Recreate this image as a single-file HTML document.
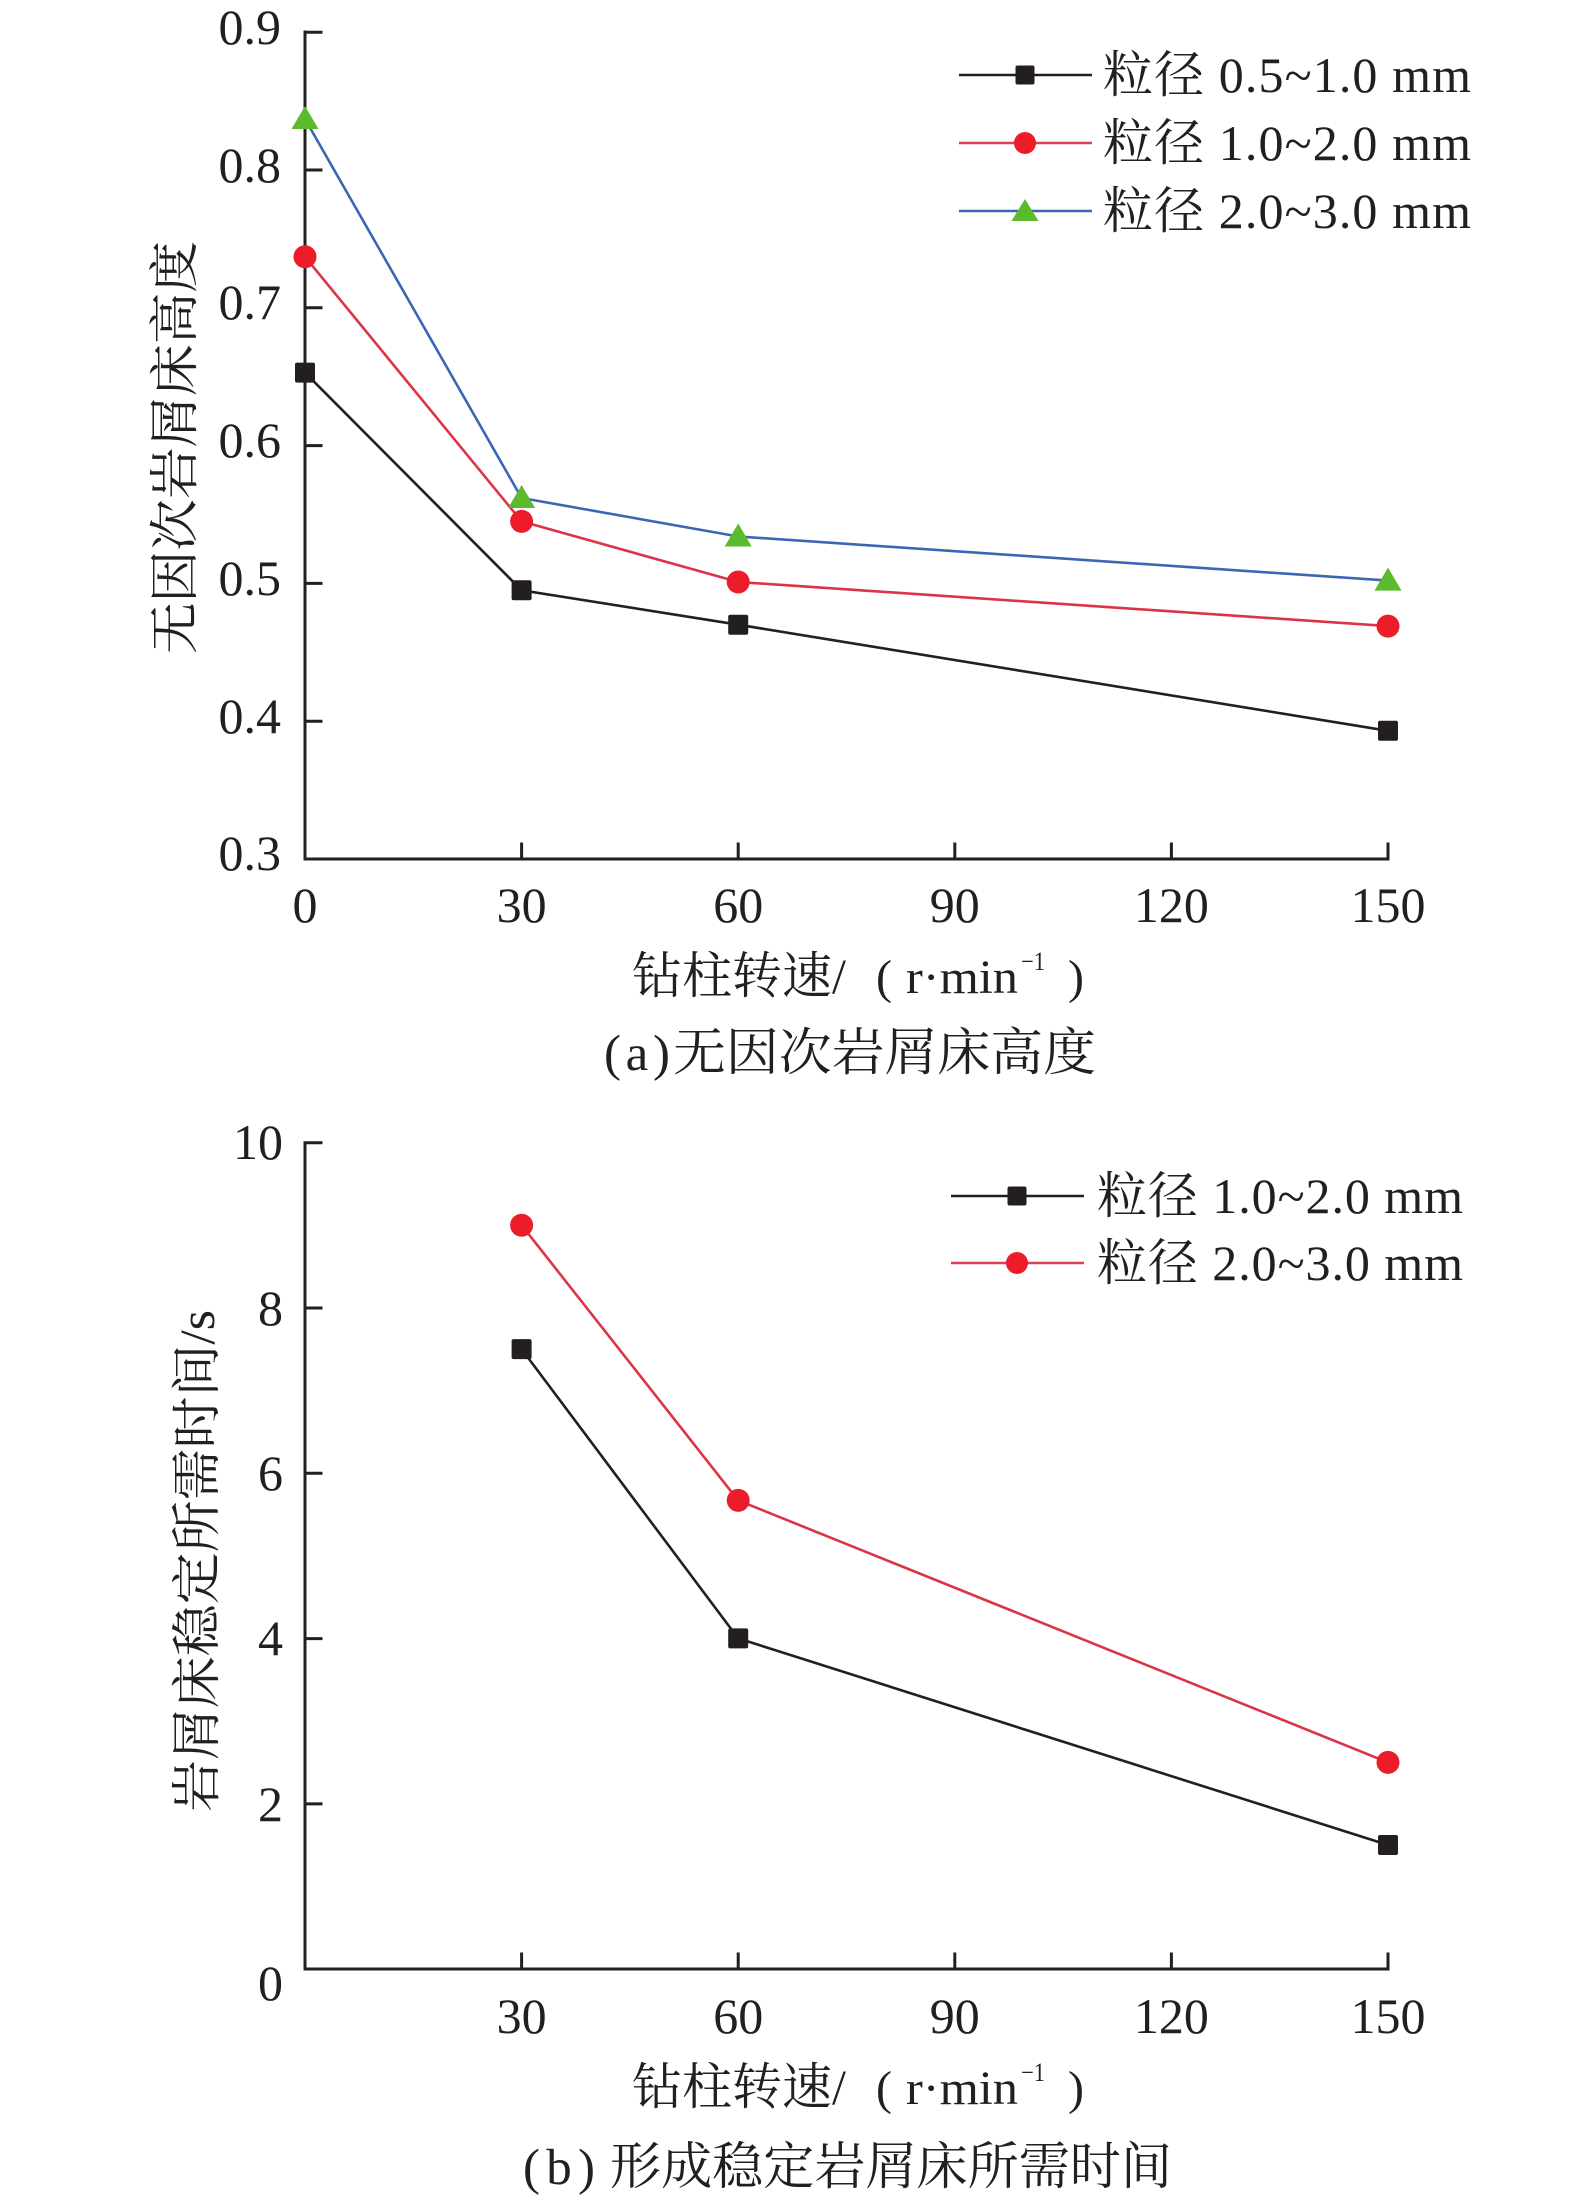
<!DOCTYPE html>
<html>
<head>
<meta charset="utf-8">
<style>
html,body{margin:0;padding:0;background:#fff;}
svg{display:block;}
.lat{font-family:"Liberation Serif","Noto Serif CJK SC",serif;fill:#231f20;}
.cjk{font-family:"Liberation Serif","Noto Serif CJK SC",serif;fill:#231f20;}
</style>
</head>
<body>
<svg width="1575" height="2203" viewBox="0 0 1575 2203" xmlns="http://www.w3.org/2000/svg">
<rect x="0" y="0" width="1575" height="2203" fill="#fff"/>

<!-- ================= Chart (a) ================= -->
<g stroke="#231f20" stroke-width="3" fill="none" stroke-linecap="square">
  <line x1="305" y1="32" x2="305" y2="859"/>
  <line x1="305" y1="859" x2="1388" y2="859"/>
  <line x1="305" y1="32.2" x2="321" y2="32.2"/>
  <line x1="305" y1="170" x2="321" y2="170"/>
  <line x1="305" y1="307.8" x2="321" y2="307.8"/>
  <line x1="305" y1="445.6" x2="321" y2="445.6"/>
  <line x1="305" y1="583.4" x2="321" y2="583.4"/>
  <line x1="305" y1="721.2" x2="321" y2="721.2"/>
  <line x1="521.6" y1="859" x2="521.6" y2="844"/>
  <line x1="738.2" y1="859" x2="738.2" y2="844"/>
  <line x1="954.8" y1="859" x2="954.8" y2="844"/>
  <line x1="1171.4" y1="859" x2="1171.4" y2="844"/>
  <line x1="1388" y1="859" x2="1388" y2="844"/>
</g>
<g class="lat" font-size="50" text-anchor="end">
  <text x="281" y="44">0.9</text>
  <text x="281" y="182">0.8</text>
  <text x="281" y="319">0.7</text>
  <text x="281" y="457">0.6</text>
  <text x="281" y="595">0.5</text>
  <text x="281" y="733">0.4</text>
  <text x="281" y="870">0.3</text>
</g>
<g class="lat" font-size="50" text-anchor="middle">
  <text x="305" y="922">0</text>
  <text x="521.6" y="922">30</text>
  <text x="738.2" y="922">60</text>
  <text x="954.8" y="922">90</text>
  <text x="1171.4" y="922">120</text>
  <text x="1388" y="922">150</text>
</g>
<polyline points="305,119 521.6,498 738.2,536.5 1388,580.6" fill="none" stroke="#3b66b3" stroke-width="2.6"/>
<polyline points="305,256.8 521.6,521.4 738.2,582 1388,626.1" fill="none" stroke="#dc3447" stroke-width="2.6"/>
<polyline points="305,372.6 521.6,590.3 738.2,624.7 1388,730.8" fill="none" stroke="#231f20" stroke-width="2.6"/>
<g fill="#231f20">
  <rect x="295" y="362.6" width="20" height="20" rx="2"/>
  <rect x="511.6" y="580.3" width="20" height="20" rx="2"/>
  <rect x="728.2" y="614.7" width="20" height="20" rx="2"/>
  <rect x="1378" y="720.8" width="20" height="20" rx="2"/>
</g>
<g fill="#ec1c2a">
  <circle cx="305" cy="256.8" r="11.5"/>
  <circle cx="521.6" cy="521.4" r="11.5"/>
  <circle cx="738.2" cy="582" r="11.5"/>
  <circle cx="1388" cy="626.1" r="11.5"/>
</g>
<g fill="#5abb2c">
  <polygon points="305,106 291.5,129 318.5,129"/>
  <polygon points="521.6,485 508.1,508 535.1,508"/>
  <polygon points="738.2,523.5 724.7,546.5 751.7,546.5"/>
  <polygon points="1388,567.6 1374.5,590.6 1401.5,590.6"/>
</g>
<line x1="959" y1="75" x2="1092" y2="75" stroke="#231f20" stroke-width="2.6"/>
<rect x="1015.5" y="65.5" width="19" height="19" rx="2" fill="#231f20"/>
<line x1="959" y1="143" x2="1092" y2="143" stroke="#d9404f" stroke-width="2.6"/>
<circle cx="1025" cy="143" r="11" fill="#ec1c2a"/>
<line x1="959" y1="211" x2="1092" y2="211" stroke="#3b66b3" stroke-width="2.6"/>
<polygon points="1025,199 1011.5,221 1038.5,221" fill="#5abb2c"/>
<g class="cjk" font-size="50">
  <text x="1103" y="92" textLength="368" lengthAdjust="spacing">粒径 0.5~1.0 mm</text>
  <text x="1103" y="160" textLength="368" lengthAdjust="spacing">粒径 1.0~2.0 mm</text>
  <text x="1103" y="228" textLength="368" lengthAdjust="spacing">粒径 2.0~3.0 mm</text>
</g>
<text class="cjk" font-size="50" text-anchor="middle" transform="translate(192,447.5) rotate(-90)" textLength="413" lengthAdjust="spacingAndGlyphs">无因次岩屑床高度</text>
<g class="cjk">
  <text x="632" y="993" font-size="50">钻柱转速/</text>
  <text x="876" y="993" font-size="48">(</text>
  <text x="906" y="993" font-size="48" textLength="112" lengthAdjust="spacingAndGlyphs">r·min</text>
  <text x="1021" y="970" font-size="26" textLength="24" lengthAdjust="spacingAndGlyphs">−1</text>
  <text x="1068" y="993" font-size="48">)</text>
</g>
<g class="cjk" font-size="51">
  <text x="604" y="1070" textLength="66" lengthAdjust="spacing">(a)</text>
  <text x="673" y="1070" textLength="423" lengthAdjust="spacingAndGlyphs">无因次岩屑床高度</text>
</g>

<!-- ================= Chart (b) ================= -->
<g stroke="#231f20" stroke-width="3" fill="none" stroke-linecap="square">
  <line x1="305" y1="1143" x2="305" y2="1969"/>
  <line x1="305" y1="1969" x2="1388" y2="1969"/>
  <line x1="305" y1="1142.7" x2="321" y2="1142.7"/>
  <line x1="305" y1="1308" x2="321" y2="1308"/>
  <line x1="305" y1="1473.3" x2="321" y2="1473.3"/>
  <line x1="305" y1="1638.6" x2="321" y2="1638.6"/>
  <line x1="305" y1="1803.9" x2="321" y2="1803.9"/>
  <line x1="521.6" y1="1969" x2="521.6" y2="1954"/>
  <line x1="738.2" y1="1969" x2="738.2" y2="1954"/>
  <line x1="954.8" y1="1969" x2="954.8" y2="1954"/>
  <line x1="1171.4" y1="1969" x2="1171.4" y2="1954"/>
  <line x1="1388" y1="1969" x2="1388" y2="1954"/>
</g>
<g class="lat" font-size="50" text-anchor="end">
  <text x="283" y="1159">10</text>
  <text x="283" y="1325">8</text>
  <text x="283" y="1490">6</text>
  <text x="283" y="1655">4</text>
  <text x="283" y="1821">2</text>
  <text x="283" y="2000">0</text>
</g>
<g class="lat" font-size="50" text-anchor="middle">
  <text x="521.6" y="2033">30</text>
  <text x="738.2" y="2033">60</text>
  <text x="954.8" y="2033">90</text>
  <text x="1171.4" y="2033">120</text>
  <text x="1388" y="2033">150</text>
</g>
<polyline points="521.6,1225.2 738.2,1500.4 1388,1762.4" fill="none" stroke="#dc3447" stroke-width="2.6"/>
<polyline points="521.6,1349.1 738.2,1638.4 1388,1845" fill="none" stroke="#231f20" stroke-width="2.6"/>
<g fill="#231f20">
  <rect x="511.6" y="1339.1" width="20" height="20" rx="2"/>
  <rect x="728.2" y="1628.4" width="20" height="20" rx="2"/>
  <rect x="1378" y="1835" width="20" height="20" rx="2"/>
</g>
<g fill="#ec1c2a">
  <circle cx="521.6" cy="1225.2" r="11.5"/>
  <circle cx="738.2" cy="1500.4" r="11.5"/>
  <circle cx="1388" cy="1762.4" r="11.5"/>
</g>
<line x1="951" y1="1196" x2="1084" y2="1196" stroke="#231f20" stroke-width="2.6"/>
<rect x="1007.5" y="1186.5" width="19" height="19" rx="2" fill="#231f20"/>
<line x1="951" y1="1263" x2="1084" y2="1263" stroke="#d9404f" stroke-width="2.6"/>
<circle cx="1017" cy="1263" r="11" fill="#ec1c2a"/>
<g class="cjk" font-size="50">
  <text x="1097" y="1213" textLength="366" lengthAdjust="spacing">粒径 1.0~2.0 mm</text>
  <text x="1097" y="1280" textLength="366" lengthAdjust="spacing">粒径 2.0~3.0 mm</text>
</g>
<text class="cjk" font-size="50" text-anchor="middle" transform="translate(214,1561) rotate(-90)" textLength="502" lengthAdjust="spacingAndGlyphs">岩屑床稳定所需时间/s</text>
<g class="cjk">
  <text x="632" y="2104" font-size="50">钻柱转速/</text>
  <text x="876" y="2104" font-size="48">(</text>
  <text x="906" y="2104" font-size="48" textLength="112" lengthAdjust="spacingAndGlyphs">r·min</text>
  <text x="1021" y="2081" font-size="26" textLength="24" lengthAdjust="spacingAndGlyphs">−1</text>
  <text x="1068" y="2104" font-size="48">)</text>
</g>
<g class="cjk" font-size="51">
  <text x="523" y="2184" textLength="72" lengthAdjust="spacing">(b)</text>
  <text x="610" y="2184" textLength="562" lengthAdjust="spacingAndGlyphs">形成稳定岩屑床所需时间</text>
</g>
</svg>
</body>
</html>
